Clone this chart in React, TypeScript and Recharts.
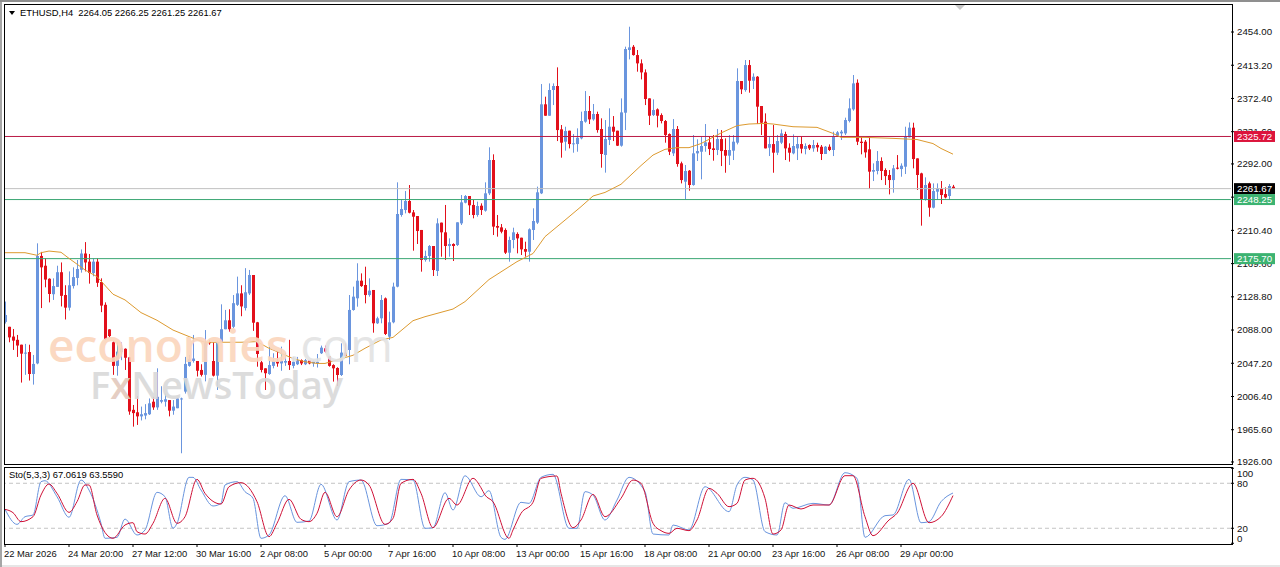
import { ComposedChart, Bar, Line, XAxis, YAxis, ReferenceLine } from 'recharts';

const SLOTS = 307;
const FONT = '"Liberation Sans", Arial, sans-serif';
const UP = '#6a95de';
const DOWN = '#e2101b';
const PRICE_DOMAIN = [1923.5, 2488.4];

// ETHUSD H4 candles
const opens = [
  2098,2092,2080,2076,2070,2059,2061,2034,2047,2179,
  2167,2151,2132,2141,2159,2131,2115.5,2142,2152,2162,
  2182,2172,2158,2172,2147,2119,2088.8,2073,2044,2061,
  2065,2054.5,1990,1987,1982,1983,1984.6,2000,1993,2000,
  2000,2002,1989,1992,2003,2012.4,2044,2050,2050,2039,
  2033,2073,2050,2032,2073,2089,2100,2092,2119,2133,
  2115,2133,2155.6,2097.5,2048.4,2041,2034,2044,2050,2047,
  2048,2050,2044,2046,2051,2046,2051,2047,2047,2059.5,
  2065.6,2055.4,2045,2041.4,2032.8,2060.3,2063.5,2112.6,2127,2148.6,
  2143.3,2131,2137.2,2096.3,2102.4,2126.9,2079.9,2097.5,2141.3,2229.3,
  2235.4,2246.5,2232.5,2228,2210.9,2174,2178.9,2191.2,2160.5,2219.9,
  2208,2191.2,2193.7,2192.4,2219,2244.4,2252.6,2241.6,2229.3,2240.7,
  2234.6,2255.9,2296.8,2215.8,2214.1,2210.9,2183,2198.6,2206,2201.4,
  2187.5,2184.2,2210.9,2219.9,2255.9,2365.2,2351.2,2382.8,2387.7,2334.5,
  2319.3,2332.8,2316.4,2316.4,2323.4,2343.9,2357,2346.7,2353.3,2334.9,
  2303,2321.4,2337.7,2332.8,2314.4,2354.9,2431.9,2435.9,2425.7,2415.5,
  2404.4,2372.5,2352,2359,2352,2344.7,2328.7,2305,2334.9,2292.7,
  2270.2,2283.7,2266.1,2305,2307,2314,2318.5,2311.1,2309.1,2322.6,
  2309.1,2302.1,2308.3,2318.1,2393.8,2382.7,2413.4,2394.2,2399.1,2363.1,
  2343.9,2311.9,2316.4,2305.8,2318.1,2328.7,2311.9,2305,2311.1,2316.4,
  2310.3,2315.2,2311.1,2315.2,2313.1,2304.2,2313.1,2309.1,2326.7,2329.5,
  2329.5,2344.7,2359,2391.7,2319.3,2319.3,2309.9,2282.5,2283.3,2295.6,
  2284.5,2278.4,2272.2,2287.4,2285.7,2288.6,2324.6,2336.5,2298.8,2280.4,
  2248.5,2268.1,2238.3,2257.9,2261.2,2255,2252.6,2264.05,
];
const highs = [
  2123,2092,2089.3,2082,2070,2071,2070,2057.4,2194.5,2184,
  2176,2151.5,2151.5,2167,2171,2143,2160,2165,2174,2187,
  2196,2181.4,2176,2176,2151.5,2122,2089,2074,2073,2073,
  2065.5,2055,1996,2007,1994,1997,2004,2006,2041,2019,
  2010,2002,2002,2004.6,2005,2055,2057.4,2082,2050,2046,
  2088,2076,2073,2074,2119.6,2112.7,2113.5,2131,2153.6,2143,
  2164,2161.8,2155.6,2098,2050,2041,2067.6,2059.5,2061.5,2067.6,
  2060,2076,2055,2055,2052,2052.5,2051,2051,2058.6,2068.9,
  2068.9,2056,2046,2042.3,2071.7,2071.7,2131,2141.3,2170,2157.6,
  2165.8,2151.5,2137.2,2104.4,2131,2128,2110.6,2146.2,2269.4,2248.5,
  2258.7,2266.1,2235.4,2228,2210.9,2185.5,2192.4,2191.2,2225.2,2219.9,
  2241.6,2200.6,2194.5,2220.3,2253.8,2253.8,2252.6,2247.7,2245.7,2243.6,
  2269.4,2312.4,2303.8,2229.3,2218.2,2212.9,2202.7,2213.7,2208,2201.4,
  2196.5,2212.9,2237.5,2264.1,2390.1,2374.6,2390.9,2390.9,2410.6,2339.8,
  2337.7,2332.8,2328.7,2335.7,2356.2,2381.5,2375.4,2365.6,2356.2,2348,
  2345.9,2360.3,2350.8,2332.8,2372.5,2436,2460.5,2438,2431.9,2420.4,
  2408.1,2372.5,2371.3,2360.2,2354.1,2345.9,2329.5,2347.1,2338.5,2294.8,
  2290.7,2284.5,2327.5,2322.2,2325.4,2341,2325.4,2327.5,2334.9,2333.6,
  2323.4,2327.5,2327.5,2409.4,2393.8,2419.6,2419.6,2403.2,2399.9,2363.1,
  2354.1,2325.4,2339.8,2327.5,2334.4,2331.6,2317.3,2328.3,2325.4,2325.4,
  2317.3,2316,2321.4,2318.1,2315.2,2314,2316,2331.6,2332.4,2333.6,
  2348.8,2372.5,2401.2,2395.8,2325.4,2321.4,2325.4,2292.7,2307.8,2300.1,
  2286.6,2284.5,2290.7,2302.9,2292.7,2337.7,2343,2342.6,2298.8,2281.2,
  2275.5,2270.2,2268.1,2268.1,2271,2263.2,2267.3,2266.25,
];
const lows = [
  2096,2073,2063.6,2055,2023.5,2033,2026,2021,2046,2115,
  2140.5,2122,2125,2141,2117,2101,2112,2139,2143,2158.5,
  2160,2145,2154,2141,2110,2076,2079,2033,2032,2051,
  2039,1984,1969.4,1971.5,1977,1978.4,1983.7,1990,1990,1998,
  1994,1982,1984,1992,1936.7,2010,2043,2048,2031,2031,
  2025,2070,2031,2014.4,2072,2089,2086,2090,2117.6,2105,
  2112,2131,2087,2043,2036,2014.4,2033,2041,2043,2038,
  2044,2039,2041,2045,2045,2045,2046,2043,2042,2058.6,
  2060.3,2043,2024.7,2019.3,2031.6,2055.4,2046,2111.8,2116.7,2141,
  2120.8,2129,2084.8,2095.4,2096.3,2081.9,2075.8,2096.3,2140.5,2227.2,
  2231.3,2231.3,2185.5,2193.7,2159.7,2172,2172,2154.4,2154.4,2178.1,
  2174,2178.1,2172.8,2191.2,2217,2243.6,2229.3,2225.2,2227.2,2229.3,
  2233.4,2253.8,2204.7,2202.7,2206.8,2181.4,2172,2188.4,2182.2,2180.2,
  2178.1,2172,2198.6,2218.2,2255,2351.2,2351.2,2364.3,2320.1,2299.7,
  2308.3,2311.1,2305.8,2307,2322.2,2342.6,2341,2345.1,2330.4,2287.4,
  2281.3,2315.2,2320.1,2314,2313.2,2333.6,2420.4,2425,2405.3,2395.8,
  2364.3,2339.8,2350.8,2336.9,2341.8,2318.1,2302.9,2301.7,2288.6,2268.1,
  2248.5,2259.1,2265.3,2295.6,2273.1,2307,2302.9,2296,2302.9,2289.4,
  2281.2,2290.7,2296.8,2316,2377.8,2380.7,2379.5,2384,2341,2327.5,
  2311.1,2301.7,2281.2,2302.9,2316.4,2296.8,2294.8,2303.8,2296.8,2305,
  2303.8,2309.1,2307,2307,2296.8,2304.2,2307.8,2301.7,2325.4,2321.4,
  2327.5,2343,2357.4,2315.2,2303.8,2299.7,2261.2,2271,2279.2,2272.2,
  2266.1,2254.6,2256.7,2285.3,2276.3,2279.6,2324.6,2286.6,2260,2216.2,
  2246.9,2227.2,2237.4,2247.7,2242.8,2249.7,2247.7,2261.25,
];
const closes = [
  2106.5,2079,2075,2069,2059,2060.3,2034,2046.4,2179,2165,
  2150,2132.3,2142,2159,2130,2115.5,2143,2153,2163,2182,
  2171,2158,2172,2146,2118,2077,2080.6,2044,2061.5,2065.6,
  2054,1988,1986,1982,1984.6,1986,1998,1993,2006,2002,
  2003,1989,1994,2004,2004,2046.4,2052.5,2053,2038,2033,
  2072,2072,2032,2073,2089,2100,2089,2121,2133,2117,
  2134.4,2155.6,2097,2058.6,2039,2035,2045,2050,2047,2050,
  2050,2045,2049,2051,2047,2051,2047,2050,2049,2066.4,
  2061.5,2044,2041,2032.8,2060.3,2056,2112.7,2129,2148.6,2142,
  2131,2136.4,2096.3,2102.4,2124.9,2083.2,2097.5,2141.3,2230.5,2236.6,
  2246.5,2232.1,2227.2,2209.6,2174,2178.9,2191.2,2161.7,2219,2208,
  2191.2,2193.7,2191.2,2220.3,2244.8,2252.6,2241.2,2229.3,2240.3,2235.4,
  2255.9,2296.8,2215,2213.7,2208.8,2183,2198.6,2208,2200.6,2187.1,
  2184.2,2211.7,2221.9,2257.1,2365.2,2351.2,2382.8,2387.7,2333.6,2318.1,
  2332.4,2316.4,2317.3,2324.2,2344.7,2357,2346.7,2353.3,2333.6,2304.2,
  2322.6,2337.7,2331.6,2314.4,2355.3,2433.1,2435.1,2425.7,2415.5,2404.4,
  2371.7,2351.2,2358.2,2351.2,2344.7,2327.5,2307,2334.9,2291.9,2272.2,
  2283.3,2266.1,2305,2307.8,2314,2318.5,2310.3,2309.1,2322.6,2307.8,
  2302.1,2309.1,2319.3,2393.8,2383.6,2413.4,2394.2,2399.1,2362.3,2342.6,
  2311.1,2316.4,2305.8,2320.1,2329.5,2311.1,2305.8,2314,2316.4,2310.7,
  2314,2311.1,2315.2,2312.3,2304.2,2313.1,2309.1,2325.4,2330.8,2331.6,
  2345.9,2360.2,2390.9,2319.3,2317.7,2306.2,2282.5,2284.5,2295.6,2283.3,
  2277.1,2272.2,2286.6,2286.2,2289.8,2325.4,2336.5,2298,2278.4,2248.5,
  2266.1,2238.3,2258.7,2262,2253.8,2250.9,2264.9,2261.67,
];

// orange moving average, sampled at its bends
const maBars = [0,5,8,9,11,14,16,20,23,27,30,34,38,42,47,50,59,63,66,69,72,75,78,80,87,90,94,97,102,105,112,115,121,128,132,135,140,144,147,150,154,159,162,165,168,171,174,179,183,186,190,192,197,203,207,209,215,222,228,232,234,237];
const maValues = [2183,2183,2179.8,2183,2185,2183.5,2176,2161.8,2153.6,2132,2125,2109.4,2100,2088,2078,2073,2073,2073.8,2065.6,2059.5,2053,2049,2047,2047,2057,2065.6,2075.8,2079,2099.5,2104.4,2113.8,2122.9,2150,2172,2182,2202.7,2223,2239.5,2252.6,2257,2267,2290,2302.9,2309.9,2312,2312,2317,2330,2339,2341,2341.8,2341,2337.7,2336.9,2329.5,2324.6,2324.6,2323.4,2322,2317,2311,2304];

// stochastic %K and %D, sampled at their bends
const kBars = [0,3,5,7,9,10,13,16,19,21,24,25,28,30,33,35,38,40,42,43,46,47,49,52,54,55,58,60,62,64,66,70,73,76,79,83,86,89,93,96,99,102,105,107,110,112,115,119,121,124,125,129,131,134,137,141,143,145,147,150,153,156,160,162,166,167,171,175,181,183,185,187,190,193,195,197,202,206,210,213,215,220,222,226,229,231,234,237];
const kValues = [45.2,25.2,35.4,37.7,82.1,83.4,62.1,34.6,84.3,71,26.6,6.6,7.9,32.3,11,17.7,67.9,62.1,19.9,26.6,87.9,87.9,71,49.7,53.2,77.7,82.1,68.8,59.9,6.6,11,63.4,27.9,29.7,78.6,31,82.1,84.3,23.4,26.6,85.2,84.3,19.9,20.8,67.4,44.3,90.1,62,70.1,7.9,5.2,54.6,53.2,87.9,91.9,19.9,19.9,68.8,64.3,31,57.7,87.9,68.8,12.3,11,24.3,17.7,75.4,42.1,77.7,87.9,84.3,15.5,11,54.1,46.6,53.2,51,94.1,86.6,7.9,36.8,37.7,85.2,27.4,28.8,55.4,67.06];
const dBars = [0,2,4,7,9,11,13,16,18,20,21,23,27,30,32,33,35,37,40,43,45,48,50,54,56,59,63,66,68,71,74,76,78,80,83,86,89,91,95,97,99,102,104,107,111,113,117,119,120,122,126,127,129,132,134,138,139,142,144,147,150,154,157,159,162,164,166,168,171,173,176,178,181,183,185,187,190,192,194,196,199,202,206,210,212,215,217,221,223,227,231,234,237];
const dValues = [45.2,40.8,28.8,35.4,64.3,79,66.6,41.2,55.4,77.7,77.7,37.7,6.6,24.3,27.4,15.4,12.3,26.6,59.9,26.6,35.4,85.2,66.6,52.3,75.4,80.8,55.4,8.8,26.6,58.6,31.9,28.8,39.9,67.9,35.4,71,84.3,77.7,25.2,33.2,79.9,85.2,66.6,20.8,59.9,51,86.6,74,64.3,55.4,6.6,17.7,39.9,54.6,86.6,89.7,66.6,20.8,31,65.2,35.4,59.9,84.3,79.9,26.6,16.8,13.2,19.9,16.8,31,73.2,66.6,48.8,53.2,84.3,86.6,59.9,12.3,17.7,51,45.7,51,51,90.1,90.1,35.4,10.1,31,39.9,79.9,27.4,35.4,63.56];

const priceTicks = [2454,2413.2,2372.4,2331.6,2292,2251.2,2210.4,2169.6,2128.8,2088,2047.2,2006.4,1965.6,1926];
const stochTicks = [0,20,80,100];
const timeTicks = [0,16,32,48,64,80,96,112,128,144,160,176,192,208,224];
const timeLabels = ['22 Mar 2026','24 Mar 20:00','27 Mar 12:00','30 Mar 16:00','2 Apr 08:00','5 Apr 00:00','7 Apr 16:00','10 Apr 08:00','13 Apr 00:00','15 Apr 16:00','18 Apr 08:00','21 Apr 00:00','23 Apr 16:00','26 Apr 08:00','29 Apr 00:00'];

const levels = [
  { value: 2325.72, line: '#bb1a45', tag: '#dc143c', text: '2325.72' },
  { value: 2261.67, line: '#c0c0c0', tag: '#000000', text: '2261.67' },
  { value: 2248.25, line: '#3aa673', tag: '#3cb371', text: '2248.25' },
  { value: 2175.7, line: '#3aa673', tag: '#3cb371', text: '2175.70' },
];

const rows = Array.from({ length: SLOTS }, (_, idx) => {
  const m = maBars.indexOf(idx);
  const k = kBars.indexOf(idx);
  const d = dBars.indexOf(idx);
  return {
    idx,
    open: opens[idx],
    close: closes[idx],
    hl: idx < opens.length ? [lows[idx], highs[idx]] : undefined,
    ma: m >= 0 ? maValues[m] : undefined,
    k: k >= 0 ? kValues[k] : undefined,
    d: d >= 0 ? dValues[d] : undefined,
  };
});

function Candle(props: any) {
  const { x, y, width, height, payload } = props;
  if (!payload || !payload.hl || !height) return null;
  const [low, high] = payload.hl;
  const perUnit = height / (high - low);
  const top = y + (high - Math.max(payload.open, payload.close)) * perUnit;
  const bottom = y + (high - Math.min(payload.open, payload.close)) * perUnit;
  const color = payload.close >= payload.open ? UP : DOWN;
  return (
    <g>
      <rect x={x + 2} y={y} width={1} height={height} fill={color} />
      <rect x={x + 1} y={top} width={width - 1} height={Math.max(1, bottom - top)} fill={color} />
    </g>
  );
}

function PriceTag(props: any, tag: string, text: string) {
  const { x, y, width } = props.viewBox;
  return (
    <g>
      <rect x={x + width + 3} y={y - 5.5} width={41} height={11} fill={tag} />
      <text x={x + width + 6} y={y + 3.5} fontSize={9.7} fontFamily={FONT} fill="#fff">{text}</text>
    </g>
  );
}

function StochTick(props: any) {
  const { x, y, payload } = props;
  // the 0 and 100 labels are pushed inside the pane
  const shift = payload.value === 100 ? 5 : payload.value === 0 ? -5 : 0;
  return <text x={x} y={y + shift + 3.5} fontSize={9.7} fontFamily={FONT} fill="#111">{payload.value}</text>;
}

function TimeTick(props: any) {
  const { x, y, payload } = props;
  return <text x={x - 1} y={y + 10} fontSize={9.4} fontFamily={FONT} fill="#111">{timeLabels[timeTicks.indexOf(payload.value)]}</text>;
}

const box = (left: number, top: number, width: number, height: number) => ({
  position: 'absolute' as const, left, top, width, height, boxSizing: 'border-box' as const, border: '1px solid #000', pointerEvents: 'none' as const,
});

export default function App() {
  return (
    <div style={{ position: 'absolute', left: 0, top: 0, width: 1280, height: 567, background: '#fff', overflow: 'hidden', fontFamily: FONT }}>
      <div style={{ position: 'absolute', left: 0, top: 565, width: 1280, height: 2, background: '#e6e6e6' }} />

      <div style={{ position: 'absolute', left: 0, top: 0 }}>
        <ComposedChart width={1280} height={468} data={rows} barCategoryGap={0} margin={{ top: 4, right: 0, bottom: 4, left: 3 }}>
          <XAxis dataKey="idx" hide />
          <YAxis
            orientation="right"
            width={49}
            domain={PRICE_DOMAIN}
            allowDataOverflow
            ticks={priceTicks}
            interval={0}
            axisLine={false}
            tickSize={3}
            tickMargin={3}
            tickLine={{ stroke: '#000' }}
            tickFormatter={(v: number) => v.toFixed(2)}
            tick={{ fontSize: 9.7, fontFamily: FONT, fill: '#111', textAnchor: 'start' }}
          />
          {levels.map((l) => (
            <ReferenceLine key={l.text} y={l.value} stroke={l.line} />
          ))}
          <Bar dataKey="hl" shape={Candle} isAnimationActive={false} />
          <Line dataKey="ma" stroke="#dd9a2f" strokeWidth={1} dot={false} connectNulls isAnimationActive={false} />
        </ComposedChart>
      </div>

      {/* second layer on the same scale so the price tags sit over the axis labels */}
      <div style={{ position: 'absolute', left: 0, top: 0 }}>
        <ComposedChart width={1280} height={468} data={rows} margin={{ top: 4, right: 0, bottom: 4, left: 3 }}>
          <XAxis dataKey="idx" hide />
          <YAxis orientation="right" width={49} domain={PRICE_DOMAIN} allowDataOverflow tick={false} axisLine={false} tickLine={false} />
          {levels.map((l) => (
            <ReferenceLine key={l.text} y={l.value} stroke="none" label={(p: any) => PriceTag(p, l.tag, l.text)} />
          ))}
        </ComposedChart>
      </div>

      <div style={{ position: 'absolute', left: 0, top: 460 }}>
        <ComposedChart width={1280} height={107} data={rows} margin={{ top: 7, right: 0, bottom: 0, left: 3 }}>
          <XAxis
            dataKey="idx"
            scale="band"
            height={23}
            ticks={timeTicks}
            interval={0}
            axisLine={false}
            tickSize={3}
            tickMargin={0}
            tickLine={{ stroke: '#000' }}
            tick={TimeTick}
          />
          <YAxis
            orientation="right"
            width={49}
            domain={[-1, 101.7]}
            allowDataOverflow
            ticks={stochTicks}
            interval={0}
            axisLine={false}
            tickSize={3}
            tickMargin={3}
            tickLine={{ stroke: '#000' }}
            tick={StochTick}
          />
          <ReferenceLine y={80} stroke="#c4c4c4" strokeDasharray="4 3" />
          <ReferenceLine y={20} stroke="#c4c4c4" strokeDasharray="4 3" />
          <Line dataKey="k" type="monotone" stroke={UP} strokeWidth={1} dot={false} connectNulls isAnimationActive={false} />
          <Line dataKey="d" type="monotone" stroke="#cf1238" strokeWidth={1} dot={false} connectNulls isAnimationActive={false} />
        </ComposedChart>
      </div>

      {/* window edge, covers the stub of the level lines left of the pane border */}
      <div style={{ position: 'absolute', left: 0, top: 0, width: 4, height: 565, background: '#fff' }} />
      <div style={{ position: 'absolute', left: 0, top: 0, width: 2, height: 567, background: '#a6a6a6' }} />
      <div style={{ position: 'absolute', left: 0, top: 0, width: 1280, height: 2, background: '#8f8f8f' }} />

      <div style={box(4, 4, 1229, 461)} />
      <div style={box(4, 467, 1229, 78)} />

      <div style={{ position: 'absolute', left: 9, top: 11, width: 0, height: 0, borderLeft: '3.5px solid transparent', borderRight: '3.5px solid transparent', borderTop: '4px solid #000' }} />
      <div style={{ position: 'absolute', left: 20, top: 7, fontSize: 9.4, color: '#000', whiteSpace: 'pre' }}>ETHUSD,H4  2264.05 2266.25 2261.25 2261.67</div>
      <div style={{ position: 'absolute', left: 9, top: 469, fontSize: 9.4, color: '#000', whiteSpace: 'pre' }}>Sto(5,3,3) 67.0619 63.5590</div>
      <div style={{ position: 'absolute', left: 955, top: 5, width: 0, height: 0, borderLeft: '5px solid transparent', borderRight: '5px solid transparent', borderTop: '5px solid #c8c8c8' }} />

      <div style={{ position: 'absolute', left: 48, top: 316, fontSize: 46, fontWeight: 600, lineHeight: '56px', color: '#fbd6bd', opacity: 0.92, fontFamily: '"Open Sans", sans-serif', whiteSpace: 'pre', pointerEvents: 'none' }}>
        economies<span style={{ color: '#e3e3e3', fontWeight: 400 }}>.com</span>
      </div>
      <div style={{ position: 'absolute', left: 90, top: 359, fontSize: 38, fontWeight: 600, lineHeight: '50px', color: '#d9d9d9', opacity: 0.9, fontFamily: '"Open Sans", sans-serif', whiteSpace: 'pre', pointerEvents: 'none' }}>
        F<span style={{ color: '#e3c9bd' }}>x</span>NewsToday
      </div>
    </div>
  );
}
